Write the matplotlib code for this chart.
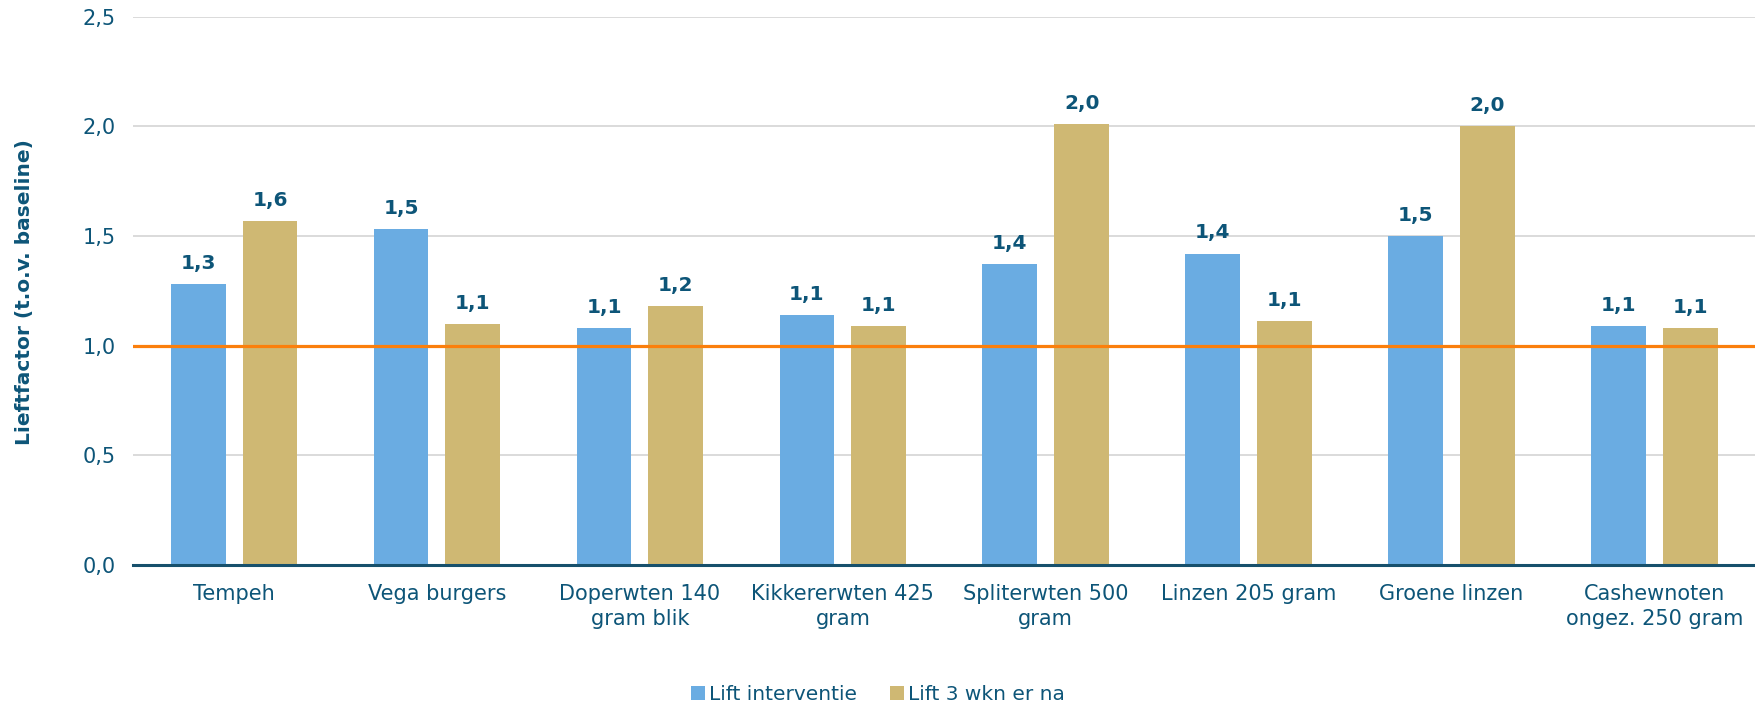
import matplotlib.pyplot as plt
import numpy as np

# Lift per product, during the intervention and three weeks after
products = ["Tempeh", "Vega burgers", "Doperwten 140\ngram blik",
            "Kikkererwten 425\ngram", "Spliterwten 500\ngram",
            "Linzen 205 gram", "Groene linzen",
            "Cashewnoten\nongez. 250 gram"]
lift_interventie = [1.28, 1.53, 1.08, 1.14, 1.37, 1.42, 1.50, 1.09]
lift_3wkn = [1.57, 1.10, 1.18, 1.09, 2.01, 1.11, 2.00, 1.08]
series_names = ["Lift interventie", "Lift 3 wkn er na"]

text_color = "#0d5578"
blue = "#6aace2"
gold = "#cfb873"
orange = "#fb7f0c"

plt.rcParams['font.family'] = ['DejaVu Sans']

fig = plt.figure(figsize=(17.56, 7.04), dpi=100)
ax = fig.add_axes([0.0755, 0.198, 0.9245, 0.778])

x = np.arange(len(products))
width = 0.27
offset = 0.177

bars1 = ax.bar(x - offset, lift_interventie, width, color=blue,
               label=series_names[0], zorder=2)
bars2 = ax.bar(x + offset, lift_3wkn, width, color=gold,
               label=series_names[1], zorder=2)

# Value labels with a decimal comma
for bars in (bars1, bars2):
    for b in bars:
        h = b.get_height()
        ax.annotate(f"{h:.1f}".replace(".", ","),
                    (b.get_x() + b.get_width() / 2, h),
                    xytext=(0, 8), textcoords="offset points",
                    ha="center", va="bottom", fontsize=14.5,
                    fontweight="bold", color=text_color)

# Baseline reference at 1.0
ax.axhline(1.0, color=orange, linewidth=2.3, zorder=3)

ax.set_xlim(-0.5, len(products) - 0.5)
ax.set_ylim(0, 2.5)
ax.set_yticks(np.arange(0, 2.51, 0.5))
ax.set_yticklabels([f"{v:.1f}".replace(".", ",") for v in np.arange(0, 2.51, 0.5)])
ax.set_xticks(x)
ax.set_xticklabels(products, linespacing=1.3)
ax.tick_params(axis="both", length=0, labelsize=15, colors=text_color)
ax.tick_params(axis="x", pad=14)
ax.tick_params(axis="y", pad=12)

ax.grid(axis="y", color="#d4d4d4", linewidth=1.2, zorder=0)
for side in ("top", "right", "left"):
    ax.spines[side].set_visible(False)
ax.spines["bottom"].set_color("#17506c")
ax.spines["bottom"].set_linewidth(2.2)
ax.spines["bottom"].set_zorder(4)

fig.text(0.014, 0.585, "Lieftfactor (t.o.v. baseline)", rotation=90,
         ha="center", va="center", fontsize=14.5, fontweight="bold",
         color=text_color)

fig.legend(loc="lower center", bbox_to_anchor=(0.5, -0.026), ncol=2,
           frameon=False, fontsize=14.5, handlelength=0.7, handleheight=0.7,
           handletextpad=0.2, columnspacing=1.6, labelcolor=text_color)

plt.savefig("out.png", dpi=100)
